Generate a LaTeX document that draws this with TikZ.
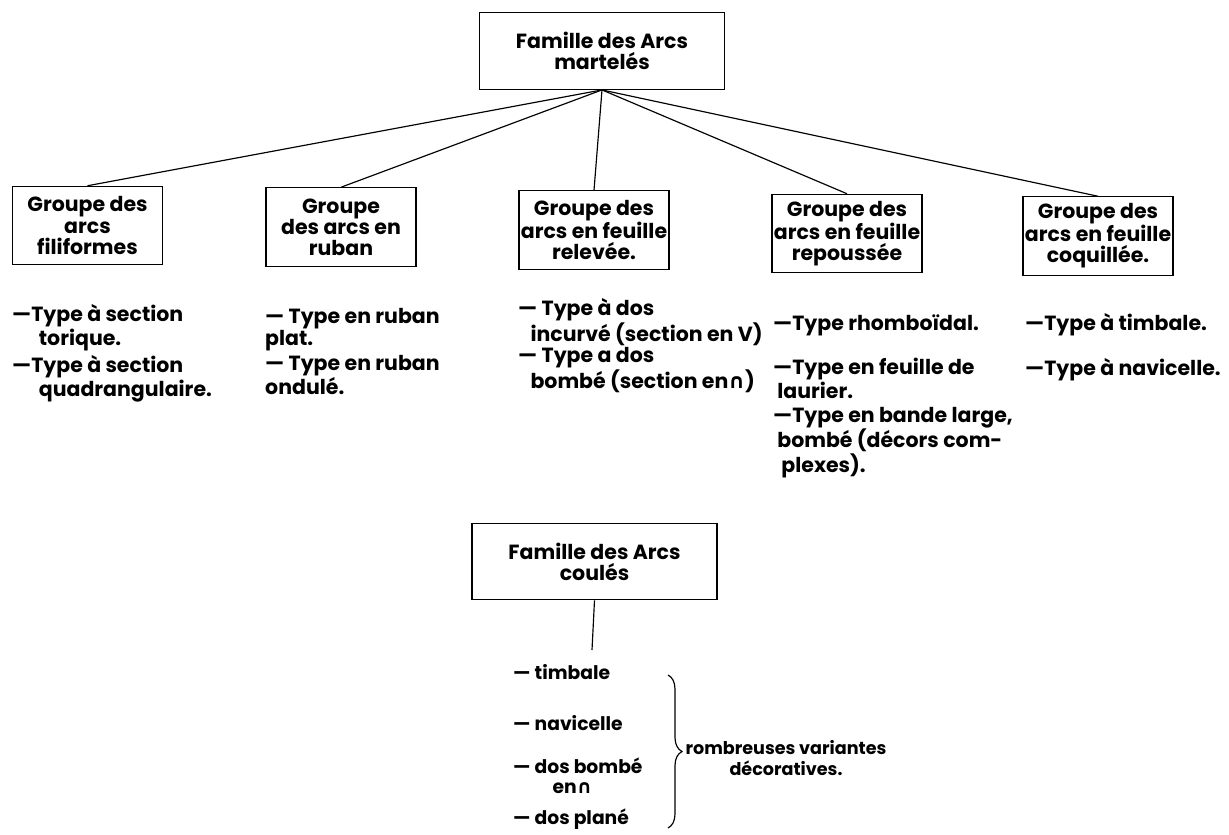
\documentclass[tikz,border=0pt]{standalone}
\usepackage{fontspec}
\setmainfont{Poppins}
\newfontfamily\symfont{DejaVu Sans}
\usetikzlibrary{decorations.pathreplacing}
\newcommand{\encap}{{\symfont\bfseries ∩}}

\begin{document}
\begin{tikzpicture}[
    x=0.03cm, y=-0.03cm,
    every node/.style={font=\fontsize{17.5}{18}\selectfont\bfseries},
    famille/.style={draw, line width=1pt, align=center,
        minimum width=7.35cm, minimum height=2.3cm, inner sep=1pt},
    groupe/.style={draw, line width=1pt, align=center,
        minimum width=4.5cm, minimum height=2.35cm, inner sep=1pt},
    item/.style={anchor=base west, align=left, inner sep=0pt},
    small/.style={font=\fontsize{16}{17}\selectfont\bfseries},
    link/.style={line width=1pt}
]
\useasboundingbox (0,0) rectangle (1229,834);

% Famille des arcs martelés
\node[famille] (martele) at (602,51) {Famille des Arcs\\martelés};

% Groupes
\node[groupe] (filiforme) at (87.5,225.5) {Groupe des\\arcs\\filiformes};
\node[groupe] (ruban)     at (341,227)    {Groupe\\des arcs en\\ruban};
\node[groupe] (relevee)   at (594,230)    {Groupe des\\arcs en feuille\\relevée.};
\node[groupe] (repoussee) at (847,233.5)  {Groupe des\\arcs en feuille\\repoussée};
\node[groupe] (coquillee) at (1098,236)   {Groupe des\\arcs en feuille\\coquillée.};

\foreach \g in {filiforme, ruban, relevee, repoussee, coquillee}
    \draw[link] (martele.south) -- (\g.north);

% Types (base = last line)
\node[item] (fil1) at (12,345)  {—Type à section\\\hspace*{1.3em}torique.};
\node[item] (fil2) at (12,396)  {—Type à section\\\hspace*{1.3em}quadrangulaire.};
\node[item] (rub1) at (265,345) {— Type en ruban\\plat.};
\node[item] (rub2) at (265,394) {— Type en ruban\\ondulé.};
\node[item] (rel1) at (518,341) {— Type à dos\\\hspace*{0.6em}incurvé (section en V)};
\node[item] (rel2) at (518,388) {— Type a dos\\\hspace*{0.6em}bombé (section en\encap)};
\node[item] (rep1) at (773,330) {—Type rhomboïdal.};
\node[item] (rep2) at (773,398) {—Type en feuille de\\\hspace*{0.2em}laurier.};
\node[item] (rep3) at (773,472) {—Type en bande large,\\\hspace*{0.2em}bombé (décors com-\\\hspace*{0.4em}plexes).};
\node[item] (coq1) at (1025,330) {—Type à timbale.};
\node[item] (coq2) at (1025,375) {—Type à navicelle.};

% Famille des arcs coulés
\node[famille] (coule) at (594.5,561.5) {Famille des Arcs\\coulés};
\coordinate (couleend) at (592,650);
\draw[link] (coule.south) -- (couleend);

\node[item, small] (timbale)   at (513,679) {— timbale};
\node[item, small] (navicelle) at (513,730) {— navicelle};
\node[item, small] (bombe)     at (513,793) {— dos bombé\\\hspace*{2.1em}en\encap};
\node[item, small] (plane)     at (513,824) {— dos plané};

\coordinate (bracetop) at (668,675);
\coordinate (bracebot) at (668,828);
\draw[line width=1pt, decorate, decoration={brace, amplitude=0.42cm}]
    (bracetop) -- (bracebot);
\node[font=\fontsize{15}{18}\selectfont\bfseries, align=center, inner sep=0pt]
    (variantes) at (786,758) {rombreuses variantes\\décoratives.};

\end{tikzpicture}
\end{document}
